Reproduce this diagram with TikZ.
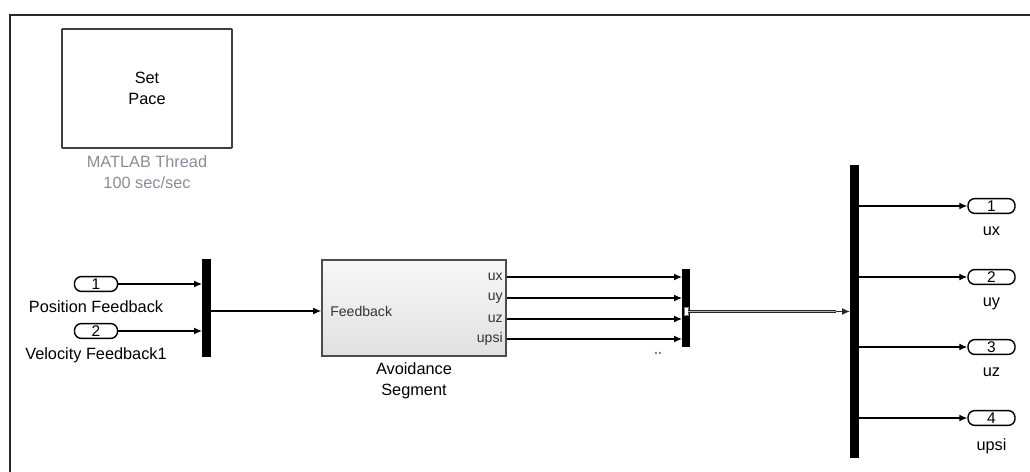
\documentclass[tikz,border=0pt]{standalone}
\usepackage{fontspec}
\setmainfont{Liberation Sans}
\usepackage{tikz}
\usetikzlibrary{arrows.meta,positioning,calc}
\definecolor{threadgray}{RGB}{140,140,152}
\definecolor{framegray}{RGB}{40,40,40}
\begin{document}
\begin{tikzpicture}[x=0.025cm, y=-0.025cm, >={Latex[length=2mm,width=1.7mm]}]
  \tikzstyle{txt}=[font=\fontsize{11.6}{15}\selectfont, inner sep=0pt, align=center]
  \tikzstyle{porttxt}=[font=\fontsize{10}{12}\selectfont, inner sep=0pt, text=black!80]
  \tikzstyle{port}=[draw, line width=1pt, rounded corners=0.17cm, minimum height=0.37cm, inner sep=0pt, font=\fontsize{11}{12}\selectfont]
  \tikzstyle{bar}=[fill=black, draw=none, inner sep=0pt, outer sep=0pt]
  \tikzstyle{sig}=[->, line width=0.8pt]
  \useasboundingbox (0,0) rectangle (1030,472);
  % model frame
  \draw[line width=1.8pt, framegray] (10,472) -- (10,15) -- (1030,15);
  % pacing block
  \node[draw, line width=1.3pt, draw=black!75, rounded corners=0.5pt, minimum width=4.25cm, minimum height=2.975cm, txt] (pace) at (147,88.5) {Set\\Pace};
  \node[txt, text=threadgray, below=0.17cm of pace] (pacelbl) {MATLAB Thread\\100 sec/sec};
  % inputs
  \node[port, minimum width=1.075cm] (in1) at (96,284) {1};
  \node[txt, below=0.2cm of in1] (in1lbl) {Position Feedback};
  \node[port, minimum width=1.075cm] (in2) at (96,331) {2};
  \node[txt, below=0.2cm of in2] (in2lbl) {Velocity Feedback1};
  \node[bar, minimum width=0.225cm, minimum height=2.45cm] (mux1) at (206.5,308) {};
  % subsystem
  \node[draw, line width=1.1pt, draw=black!70, top color=gray!6, bottom color=gray!24, minimum width=4.6cm, minimum height=2.4cm] (avoid) at (414,308) {};
  \node[porttxt, anchor=west] (fb) at (330,311) {Feedback};
  \node[porttxt, anchor=east] (ux) at (503,277) {ux};
  \node[porttxt, anchor=east] (uy) at (503,298) {uy};
  \node[porttxt, anchor=east] (uz) at (503,319) {uz};
  \node[porttxt, anchor=east] (upsi) at (503,339) {upsi};
  \node[txt, below=0.15cm of avoid] (avoidlbl) {Avoidance\\Segment};
  \node[bar, minimum width=0.2cm, minimum height=1.95cm] (mux2) at (686,308) {};
  \node[draw=gray, fill=white, line width=0.3pt, minimum width=0.09cm, minimum height=0.2cm, inner sep=0pt] (busmark) at (686,311) {};
  \node[porttxt, text=gray, font=\bfseries\fontsize{10}{10}\selectfont] (dots) at (658,353) {..};
  % outputs
  \node[bar, minimum width=0.225cm, minimum height=7.325cm] (demux) at (854.5,311.5) {};
  \foreach \n/\y/\lbl in {1/206/ux, 2/277/uy, 3/347/uz, 4/418/upsi}{
    \node[port, minimum width=1.175cm] (out\n) at (991.5,\y) {\n};
    \node[txt, below=0.3cm of out\n] (out\n lbl) {\lbl};
    \draw[sig] (demux.east |- out\n) -- (out\n.west);
  }
  % connections
  \draw[sig] (in1) -- (in1 -| mux1.west);
  \draw[sig] (in2) -- (in2 -| mux1.west);
  \draw[sig] (mux1.east |- fb) -- (avoid.west |- fb);
  \foreach \p in {ux,uy,uz,upsi}
    \draw[sig] (avoid.east |- \p) -- (mux2.west |- \p);
  % bus
  \coordinate (bushead) at ($(demux.west)+(-0.35cm,0)$);
  \draw[line width=0.8pt, draw=gray!30!black, double=gray!60, double distance=0.8pt] (busmark.east |- demux) -- (bushead);
  \draw[sig, draw=gray!30!black] (bushead) -- (demux.west);
\end{tikzpicture}
\end{document}
